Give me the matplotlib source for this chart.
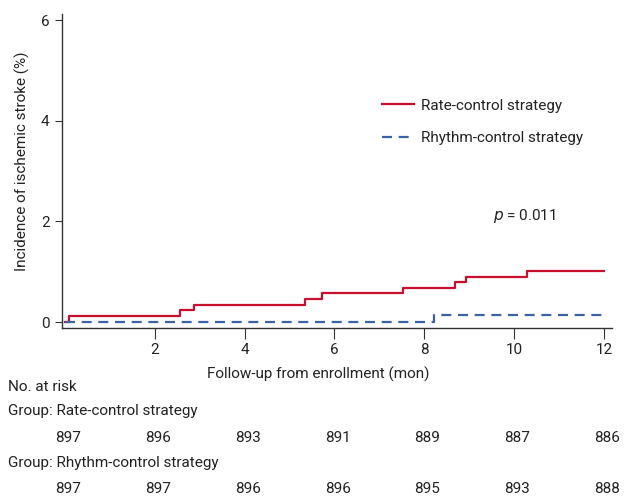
import matplotlib
matplotlib.use("Agg")
import matplotlib.pyplot as plt
import matplotlib.transforms as mtransforms

plt.rcParams['font.family'] = ['Roboto', 'DejaVu Sans']

# step data (months, cumulative incidence %)
rate_t = [0, 0.1, 2.55, 2.87, 5.35, 5.73, 7.53, 8.69, 8.92, 10.29, 12]
rate_y = [0, 0.12, 0.23, 0.34, 0.45, 0.57, 0.68, 0.79, 0.90, 1.01, 1.01]
rhythm_t = [0, 8.22, 12]
rhythm_y = [0, 0.13, 0.13]

risk_times = [0, 2, 4, 6, 8, 10, 12]
risk_rate = [897, 896, 893, 891, 889, 887, 886]
risk_rhythm = [897, 897, 896, 896, 895, 893, 888]

red = "#c8102e"
blue = "#3a62a5"
grey = "#333333"
txt = "#222222"
fs = 11

fig = plt.figure(figsize=(6.25, 4.97), dpi=100)
ax = fig.add_axes([62/625, 1-328/497, 550/625, 314/497])

ax.step(rate_t, rate_y, where='post', color=red, lw=1.6, label='Rate-control strategy')
ax.step(rhythm_t, rhythm_y, where='post', color=blue, lw=1.6, ls=(0, (4.5, 3)),
        label='Rhythm-control strategy')

ax.set_xlim(-0.067, 12.18)
ax.set_ylim(-0.119, 6.12)
ax.set_xticks([2, 4, 6, 8, 10, 12])
ax.set_yticks([0, 2, 4, 6])
ax.spines['top'].set_visible(False)
ax.spines['right'].set_visible(False)
for s in ['left', 'bottom']:
    ax.spines[s].set_color(grey)
    ax.spines[s].set_linewidth(1.0)
ax.tick_params(axis='x', length=8, color=grey, labelsize=fs, labelcolor=txt, pad=3)
ax.tick_params(axis='y', length=5, color=grey, labelsize=fs, labelcolor=txt, pad=4)

ax.set_ylabel("Incidence of ischemic stroke (%)", fontsize=fs, color=txt, va='center')
ax.yaxis.set_label_coords(-0.073, 0.53)

ax.legend(loc='upper left', bbox_to_anchor=(0.57, 0.75), frameon=False, fontsize=fs,
          handlelength=2.1, handletextpad=0.45, labelspacing=1.2, labelcolor=txt,
          borderaxespad=0)
ax.text(10.24, 2.1, "$p$ = 0.011", fontsize=fs, color=txt, ha='center', va='center')

fig.text(318/625, 1-374/497, "Follow-up from enrollment (mon)", fontsize=fs,
         color=txt, ha='center', va='center')
fig.text(8/625, 1-387/497, "No. at risk", fontsize=fs, color=txt, va='center')
fig.text(8/625, 1-411/497, "Group: Rate-control strategy", fontsize=fs, color=txt, va='center')
fig.text(8/625, 1-463/497, "Group: Rhythm-control strategy", fontsize=fs, color=txt, va='center')

trans = mtransforms.blended_transform_factory(ax.transData, fig.transFigure)
for t, a, b in zip(risk_times, risk_rate, risk_rhythm):
    ax.text(t + 0.07, 1-438/497, str(a), transform=trans, fontsize=fs, color=txt,
            ha='center', va='center', clip_on=False)
    ax.text(t + 0.07, 1-489/497, str(b), transform=trans, fontsize=fs, color=txt,
            ha='center', va='center', clip_on=False)

fig.savefig("out.png", dpi=100)
